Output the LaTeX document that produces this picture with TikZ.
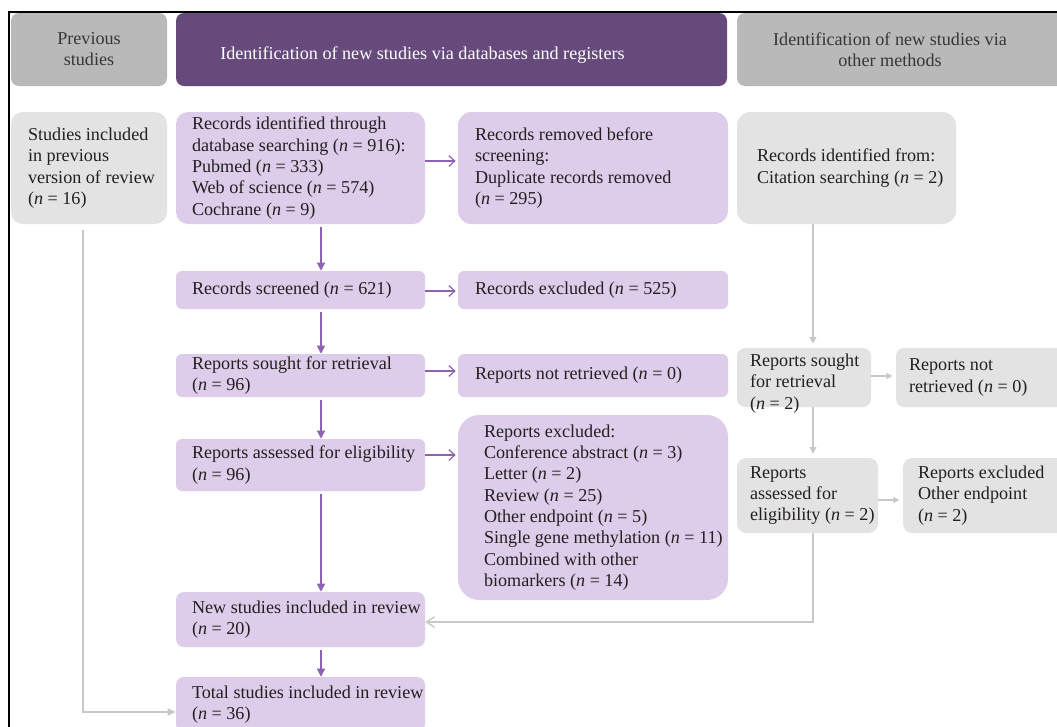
\documentclass[tikz,border=0pt]{standalone}
\usepackage{fontspec}
\setmainfont{Liberation Serif}
\usetikzlibrary{arrows.meta}
\definecolor{hdrgray}{HTML}{B9B9B9}
\definecolor{hdrpurple}{HTML}{664A7C}
\definecolor{lpurple}{HTML}{DDCDEA}
\definecolor{lgray}{HTML}{E3E3E3}
\definecolor{pline}{HTML}{8E62B2}
\definecolor{gline}{HTML}{C8C8C8}
\definecolor{txt}{HTML}{231F20}
\newcommand\myfs{\fontsize{13.6pt}{16pt}\selectfont}
\newcommand\vn{\textit{n}}
% #1 name, #2 x1, #3 y1, #4 x2, #5 y2, #6 left pad (px), #7 box style, #8 text
\newcommand\mybox[8]{%
  \pgfmathsetmacro\mbW{(#4-#2)*0.75}%
  \pgfmathsetmacro\mbH{(#5-#3)*0.75}%
  \node[#7, minimum width=\mbW pt, minimum height=\mbH pt, inner sep=0pt] (#1) at ({(#2+#4)/2},{(#3+#5)/2}) {};%
  \node[boxtext, anchor=west] (#1-t) at ([xshift=#6*0.75pt]#1.west) {#8};%
}
\begin{document}
\begin{tikzpicture}[x=0.75pt,y=-0.75pt,
  boxtext/.style={font=\myfs, text=txt, align=left, inner sep=0pt},
  pbox/.style={fill=lpurple, draw=none, rounded corners=4.5pt},
  gbox/.style={fill=lgray, draw=none, rounded corners=4.5pt},
  hdr/.style={draw=none, rounded corners=6pt},
  pv/.style={draw=pline, line width=0.9pt, shorten <=2pt, -{Triangle[length=6pt,width=6pt]}},
  ph/.style={draw=pline, line width=0.9pt, shorten >=1.5pt, -{Straight Barb[length=4.5pt,width=8pt,line width=0.9pt]}},
  gv/.style={draw=gline, line width=1pt, shorten >=3pt, -{Triangle[length=5pt,width=5pt]}},
  gh/.style={draw=gline, line width=1pt, shorten >=2.5pt, -{Triangle[length=4.5pt,width=4.5pt]}},
  gback/.style={draw=gline, line width=1pt, -{Straight Barb[length=6pt,width=8pt,line width=1pt]}},
  gend/.style={draw=gline, line width=1pt, -{Triangle[length=6pt,width=5.5pt]}},
]
\useasboundingbox (0,0) rectangle (1057,726);
\clip (0,0) rectangle (1057,726);
\fill[white] (0,0) rectangle (1057,726);

% frame
\draw[line width=1.1pt, black] (9,740) -- (9,12) -- (1070,12);

% headers
\mybox{hprev}{11}{13}{167}{86}{0}{hdr, fill=hdrgray}{}
\node[boxtext, align=center, text=txt!90] (hprev-c) at (89,49) {Previous\\studies};
\mybox{hdb}{176}{13}{727}{86}{0}{hdr, fill=hdrpurple}{}
\node[boxtext, text=white, anchor=west] (hdb-c) at (220,55) {Identification of new studies via databases and registers};
\mybox{hoth}{737}{13}{1070}{86}{0}{hdr, fill=hdrgray}{}
\node[boxtext, align=center, text=txt!90] (hoth-c) at (890,50) {Identification of new studies via\\other methods};

% row 1
\mybox{sinc}{11}{112}{167}{224}{17}{gbox, rounded corners=9pt}{Studies included\\in previous\\version of review\\(\vn{} = 16)}
\mybox{rid}{176}{112}{425}{224}{16}{pbox, rounded corners=9pt}{Records identified through\\database searching (\vn{} = 916):\\Pubmed (\vn{} = 333)\\Web of science (\vn{} = 574)\\Cochrane (\vn{} = 9)}
\mybox{rrm}{458}{112}{728}{224}{17}{pbox, rounded corners=10pt}{Records removed before\\screening:\\Duplicate records removed\\(\vn{} = 295)}
\mybox{cit}{737}{112}{956}{224}{20}{gbox, rounded corners=10pt}{Records identified from:\\Citation searching (\vn{} = 2)}

% row 2
\mybox{rs}{176}{271}{425}{309}{16}{pbox}{Records screened (\vn{} = 621)}
\mybox{rex}{458}{271}{728}{309}{17}{pbox}{Records excluded (\vn{} = 525)}

% row 3
\mybox{sr}{176}{354}{425}{397}{16}{pbox}{Reports sought for retrieval\\(\vn{} = 96)}
\mybox{rnr}{458}{354}{728}{397}{17}{pbox}{Reports not retrieved (\vn{} = 0)}
\mybox{gs}{737}{348}{871}{407}{13}{gbox, rounded corners=6pt}{}
\node[boxtext, anchor=west] (gs-c) at ([xshift=13*0.75pt, yshift=-4.5pt]gs.west) {Reports sought\\for retrieval\\(\vn{} = 2)};
\mybox{gnr}{896}{348}{1070}{407}{13}{gbox, rounded corners=6pt}{Reports not\\retrieved (\vn{} = 0)}

% row 4
\mybox{ae}{176}{439}{425}{491}{16}{pbox}{Reports assessed for eligibility\\(\vn{} = 96)}
\mybox{rexc}{458}{415}{728}{600}{26}{pbox, rounded corners=16pt}{Reports excluded:\\Conference abstract (\vn{} = 3)\\Letter (\vn{} = 2)\\Review (\vn{} = 25)\\Other endpoint (\vn{} = 5)\\Single gene methylation (\vn{} = 11)\\Combined with other\\biomarkers (\vn{} = 14)}
\mybox{ga}{737}{458}{878}{533}{13}{gbox, rounded corners=7pt}{Reports\\assessed for\\eligibility (\vn{} = 2)}
\mybox{gex}{903}{458}{1070}{533}{15}{gbox, rounded corners=7pt}{Reports excluded\\Other endpoint\\(\vn{} = 2)}

% rows 5, 6
\mybox{ns}{176}{592}{425}{647}{16}{pbox, rounded corners=6pt}{New studies included in review\\(\vn{} = 20)}
\mybox{tot}{176}{677}{425}{732}{16}{pbox, rounded corners=6pt}{Total studies included in review\\(\vn{} = 36)}

% helper coordinates
\coordinate (px) at (321,0);
\coordinate (gx) at (813,0);
\coordinate (lx) at (83,0);
\coordinate (y1) at (0,161);
\coordinate (y2) at (0,291);
\coordinate (y3) at (0,371);
\coordinate (y4) at (0,455);
\coordinate (yg1) at (0,376);
\coordinate (yg2) at (0,500);
\coordinate (yg3) at (0,622);
\coordinate (yg4) at (0,712);

% purple vertical
\draw[pv] (rid.south -| px) -- (rs.north -| px);
\draw[pv] (rs.south -| px) -- (sr.north -| px);
\draw[pv] (sr.south -| px) -- (ae.north -| px);
\draw[pv] (ae.south -| px) -- (ns.north -| px);
\draw[pv] (ns.south -| px) -- (tot.north -| px);

% purple horizontal
\draw[ph] (rid.east |- y1) -- (rrm.west |- y1);
\draw[ph] (rs.east |- y2) -- (rex.west |- y2);
\draw[ph] (sr.east |- y3) -- (rnr.west |- y3);
\draw[ph] (ae.east |- y4) -- (rexc.west |- y4);

% gray
\draw[gv] (cit.south -| gx) -- (gs.north -| gx);
\draw[gv] (gs.south -| gx) -- (ga.north -| gx);
\draw[gh] (gs.east |- yg1) -- (gnr.west |- yg1);
\draw[gh] (ga.east |- yg2) -- (gex.west |- yg2);
\draw[gback] (ga.south -| gx) |- (ns.east |- yg3);
\draw[gend] ([yshift=-4pt]sinc.south -| lx) |- (tot.west |- yg4);
\end{tikzpicture}
\end{document}
